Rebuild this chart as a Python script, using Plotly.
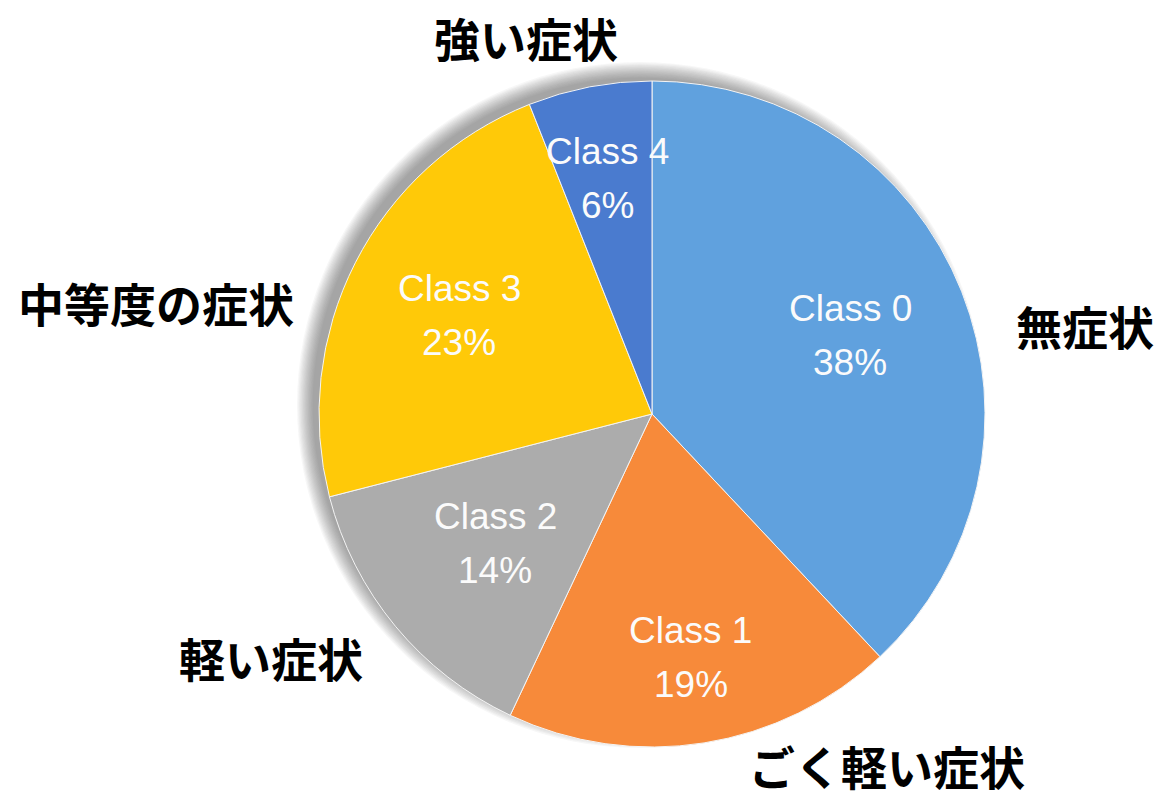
import math
import plotly.graph_objects as go

classes = ["Class 0", "Class 1", "Class 2", "Class 3", "Class 4"]
shares = [38, 19, 14, 23, 6]
descriptions = ["無症状", "ごく軽い症状", "軽い症状", "中等度の症状", "強い症状"]
colors = ["#60A1DE", "#F78A3A", "#ACACAC", "#FFC908", "#4A7BCF"]

W, H = 1159, 799
cx, cy, R = 652, 414, 333

# style: radial position of the in-slice labels (fraction of radius)
label_radius = [0.64, 0.74, 0.61, 0.65, 0.72]
# style: pixel centres of the outer descriptive labels
desc_pos = [(1085, 325), (887, 765), (271, 657), (156, 302), (526, 37)]

fig = go.Figure()
fig.add_trace(go.Pie(
    labels=classes,
    values=shares,
    sort=False,
    direction="clockwise",
    rotation=0,
    marker=dict(colors=colors, line=dict(color="#F4F4F4", width=1)),
    textinfo="none",
    domain=dict(x=[(cx - R) / W, (cx + R) / W], y=[1 - (cy + R) / H, 1 - (cy - R) / H]),
    showlegend=False,
    hoverinfo="label+percent",
))

# soft drop shadow behind the pie (up-left)
shapes = []
sx, sy = cx - 12, cy - 9
for i in range(14):
    r = R + 10 - i * 1.2
    shapes.append(dict(
        type="circle", xref="paper", yref="paper", layer="below",
        x0=(sx - r) / W, x1=(sx + r) / W,
        y0=1 - (sy + r) / H, y1=1 - (sy - r) / H,
        fillcolor="rgba(80,80,80,0.045)", line=dict(width=0),
    ))

annotations = []
total = sum(shares)
cum = 0
for cls, v, rf in zip(classes, shares, label_radius):
    mid = (cum + v / 2) / total * 2 * math.pi
    cum += v
    px = cx + rf * R * math.sin(mid)
    py = cy - rf * R * math.cos(mid)
    pct = f"{round(100 * v / total)}%"
    for txt, dy in ((cls, -27), (pct, 27)):
        annotations.append(dict(
            text=txt, x=px / W, y=1 - (py + dy) / H, xref="paper", yref="paper",
            showarrow=False, xanchor="center", yanchor="middle",
            font=dict(family="Liberation Sans, Arial", size=37, color="#FBFBFB"),
        ))

for txt, (x, y) in zip(descriptions, desc_pos):
    annotations.append(dict(
        text=txt, x=x / W, y=1 - y / H, xref="paper", yref="paper",
        showarrow=False, xanchor="center", yanchor="middle",
        font=dict(family="Noto Sans CJK JP", size=46, color="#000000", weight="bold"),
    ))

fig.update_layout(
    width=W, height=H,
    margin=dict(l=0, r=0, t=0, b=0),
    paper_bgcolor="white", plot_bgcolor="white",
    shapes=shapes, annotations=annotations,
)

fig.write_html("out.html", config={"displayModeBar": False},
               post_script="document.body.style.margin='0px';")
